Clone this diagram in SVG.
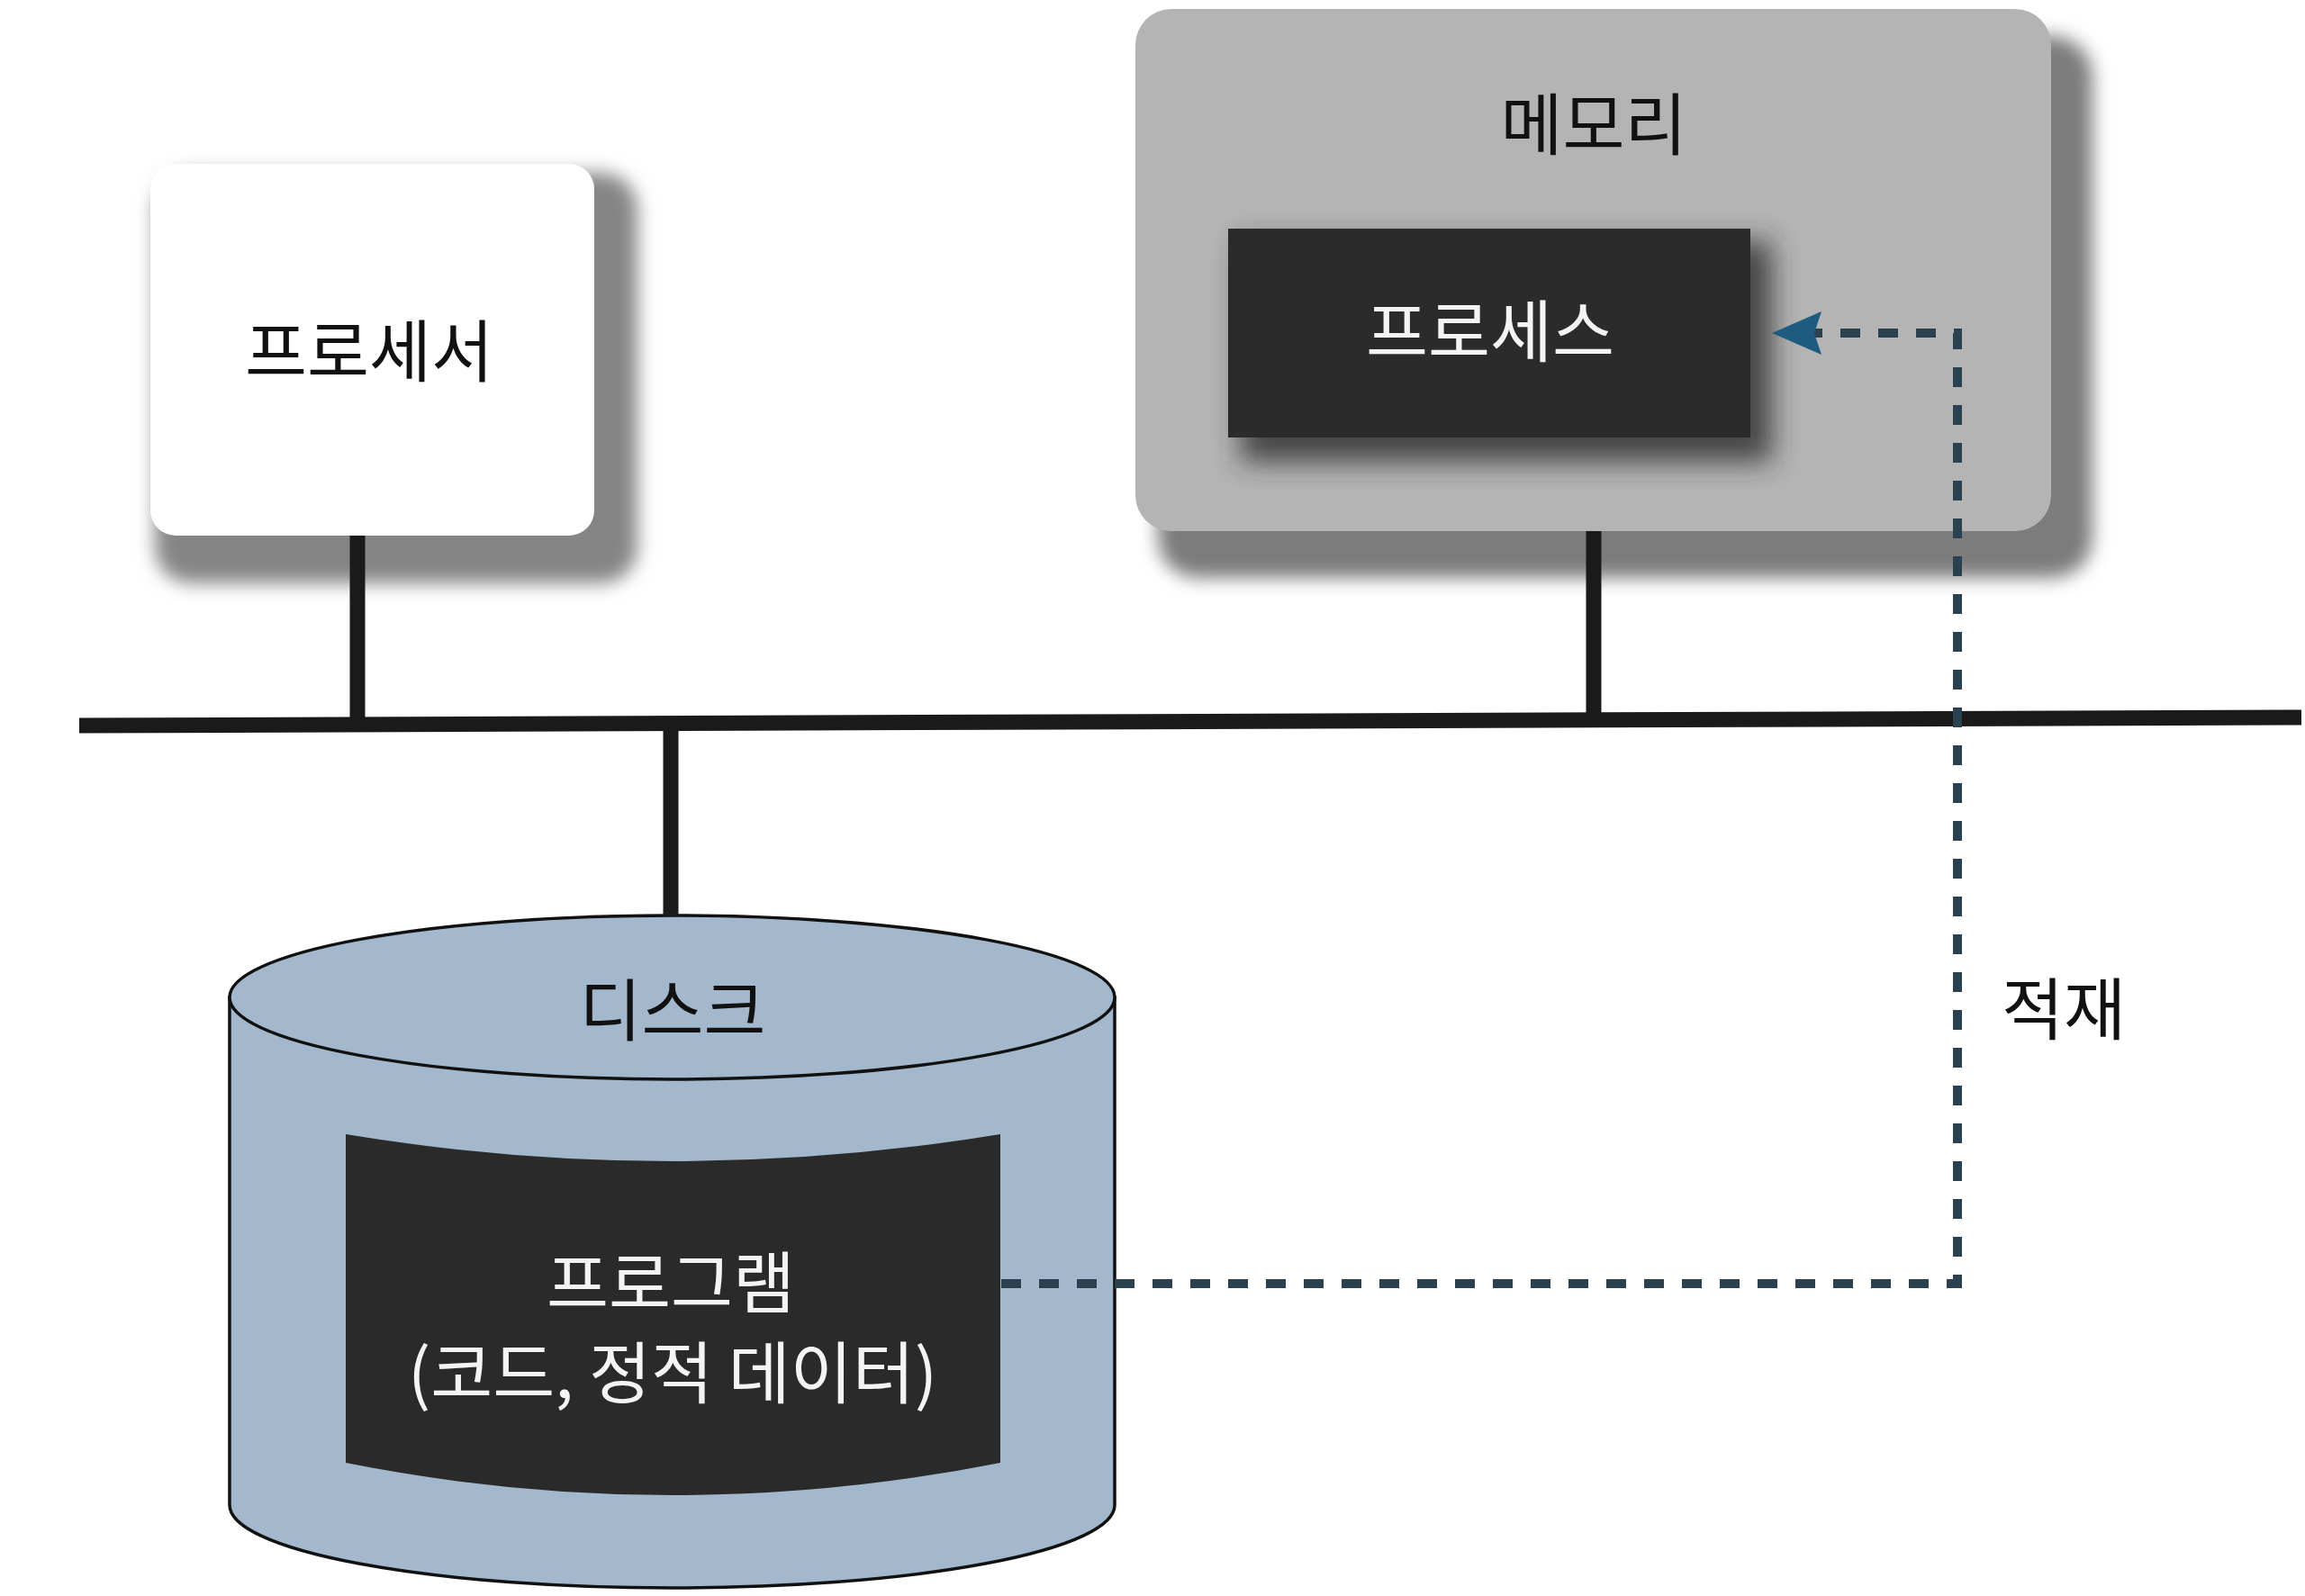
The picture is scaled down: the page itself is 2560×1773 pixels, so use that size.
<svg xmlns="http://www.w3.org/2000/svg" width="2560" height="1773" viewBox="0 0 2560 1773">
<style>
.lbl{font-family:"Noto Sans CJK KR","Noto Sans",sans-serif;font-size:75px;text-anchor:middle;fill:#111}
.wlbl{fill:#f4f4f4}
.wire{stroke:#1a1a1a;stroke-width:17;fill:none}
.dash{stroke:#2b4150;stroke-width:10;fill:none;stroke-dasharray:22 20}
</style>
<defs>
<filter id="sh" x="-20%" y="-20%" width="140%" height="140%"><feGaussianBlur stdDeviation="10"/></filter>
<filter id="sh2" x="-20%" y="-30%" width="140%" height="160%"><feGaussianBlur stdDeviation="15"/></filter>
<marker id="arr" markerUnits="userSpaceOnUse" markerWidth="60" markerHeight="50" viewBox="0 0 60 50" refX="8" refY="25" orient="auto">
<path d="M55,25 L0,1 L8,25 L0,49 Z" fill="#1f5a80"/>
</marker>
</defs>
<rect width="2560" height="1773" fill="#ffffff"/>

<g id="processor">
<rect x="172" y="192" width="536" height="456" rx="40" fill="#858585" filter="url(#sh)"/>
<rect x="167" y="182" width="493" height="413" rx="28" fill="#ffffff"/>
<text class="lbl" x="410" y="418">프로세서</text>
</g>

<g id="memory">
<rect x="1286" y="40" width="1038" height="602" rx="45" fill="#7c7c7c" filter="url(#sh)"/>
<rect x="1261" y="10" width="1017" height="580" rx="40" fill="#b4b4b4"/>
<text class="lbl" x="1770" y="166">메모리</text>
</g>

<g id="process">
<rect x="1378" y="268" width="590" height="245" fill="#2a2a2a" filter="url(#sh2)" opacity="0.8"/>
<rect x="1364" y="254" width="580" height="232" fill="#2b2b2b"/>
<text class="lbl wlbl" x="1655" y="396">프로세스</text>
</g>

<g id="disk">
<path d="M255,1108 L255,1672 A491.5,92 0 0 0 1238,1672 L1238,1108 Z" fill="#a3b8cc" stroke="#111" stroke-width="3.5"/>
<ellipse cx="746.5" cy="1108" rx="491.5" ry="91" fill="#a3b8cc" stroke="#111" stroke-width="3.5"/>
<text class="lbl" x="747" y="1150">디스크</text>
</g>

<g id="program">
<path d="M384,1260 Q747,1320 1111,1260 L1111,1625 Q747,1697 384,1625 Z" fill="#2a2a2a"/>
<text class="lbl wlbl" x="745" y="1453">프로그램</text>
<text class="lbl wlbl" x="747" y="1553">(코드, 정적 데이터)</text>
</g>

<g id="connectors">
<line class="wire" x1="88" y1="806" x2="2556" y2="797" stroke-width="20"/>
<line class="wire" x1="397" y1="595" x2="397" y2="805"/>
<line class="wire" x1="1770" y1="590" x2="1770" y2="800"/>
<line class="wire" x1="745" y1="805" x2="745" y2="1018"/>
<path class="dash" d="M1112,1426 L2174,1426 L2174,370 L2015,370" marker-end="url(#arr)"/>
</g>

<g id="label-load">
<text class="lbl" x="2292" y="1149">적재</text>
</g>
</svg>
